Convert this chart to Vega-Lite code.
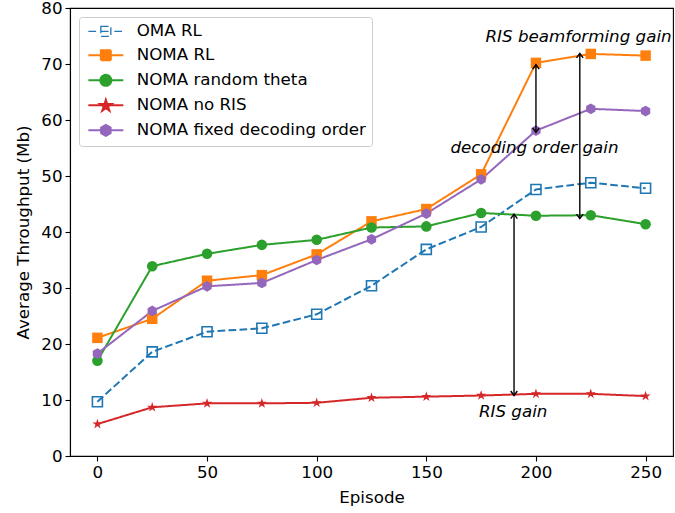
{
  "$schema": "https://vega.github.io/schema/vega-lite/v6.json",
  "width": 603,
  "height": 448,
  "autosize": {"type": "none"},
  "padding": {"left": 70, "top": 8, "right": 2, "bottom": 57},
  "background": "white",
  "datasets": {
    "perf": [
      {"episode": 0, "value": 9.7, "series": "OMA RL"},
      {"episode": 25, "value": 18.6, "series": "OMA RL"},
      {"episode": 50, "value": 22.2, "series": "OMA RL"},
      {"episode": 75, "value": 22.8, "series": "OMA RL"},
      {"episode": 100, "value": 25.3, "series": "OMA RL"},
      {"episode": 125, "value": 30.4, "series": "OMA RL"},
      {"episode": 150, "value": 36.9, "series": "OMA RL"},
      {"episode": 175, "value": 40.9, "series": "OMA RL"},
      {"episode": 200, "value": 47.6, "series": "OMA RL"},
      {"episode": 225, "value": 48.8, "series": "OMA RL"},
      {"episode": 250, "value": 47.8, "series": "OMA RL"},
      {"episode": 0, "value": 21.1, "series": "NOMA RL"},
      {"episode": 25, "value": 24.5, "series": "NOMA RL"},
      {"episode": 50, "value": 31.3, "series": "NOMA RL"},
      {"episode": 75, "value": 32.3, "series": "NOMA RL"},
      {"episode": 100, "value": 36.0, "series": "NOMA RL"},
      {"episode": 125, "value": 41.9, "series": "NOMA RL"},
      {"episode": 150, "value": 44.1, "series": "NOMA RL"},
      {"episode": 175, "value": 50.3, "series": "NOMA RL"},
      {"episode": 200, "value": 70.2, "series": "NOMA RL"},
      {"episode": 225, "value": 71.8, "series": "NOMA RL"},
      {"episode": 250, "value": 71.5, "series": "NOMA RL"},
      {"episode": 0, "value": 17.0, "series": "NOMA random theta"},
      {"episode": 25, "value": 33.9, "series": "NOMA random theta"},
      {"episode": 50, "value": 36.1, "series": "NOMA random theta"},
      {"episode": 75, "value": 37.7, "series": "NOMA random theta"},
      {"episode": 100, "value": 38.6, "series": "NOMA random theta"},
      {"episode": 125, "value": 40.8, "series": "NOMA random theta"},
      {"episode": 150, "value": 41.0, "series": "NOMA random theta"},
      {"episode": 175, "value": 43.4, "series": "NOMA random theta"},
      {"episode": 200, "value": 42.9, "series": "NOMA random theta"},
      {"episode": 225, "value": 43.0, "series": "NOMA random theta"},
      {"episode": 250, "value": 41.4, "series": "NOMA random theta"},
      {"episode": 0, "value": 5.7, "series": "NOMA no RIS"},
      {"episode": 25, "value": 8.7, "series": "NOMA no RIS"},
      {"episode": 50, "value": 9.4, "series": "NOMA no RIS"},
      {"episode": 75, "value": 9.4, "series": "NOMA no RIS"},
      {"episode": 100, "value": 9.5, "series": "NOMA no RIS"},
      {"episode": 125, "value": 10.4, "series": "NOMA no RIS"},
      {"episode": 150, "value": 10.6, "series": "NOMA no RIS"},
      {"episode": 175, "value": 10.8, "series": "NOMA no RIS"},
      {"episode": 200, "value": 11.1, "series": "NOMA no RIS"},
      {"episode": 225, "value": 11.1, "series": "NOMA no RIS"},
      {"episode": 250, "value": 10.7, "series": "NOMA no RIS"},
      {"episode": 0, "value": 18.3, "series": "NOMA fixed decoding order"},
      {"episode": 25, "value": 25.9, "series": "NOMA fixed decoding order"},
      {"episode": 50, "value": 30.3, "series": "NOMA fixed decoding order"},
      {"episode": 75, "value": 30.9, "series": "NOMA fixed decoding order"},
      {"episode": 100, "value": 35.0, "series": "NOMA fixed decoding order"},
      {"episode": 125, "value": 38.7, "series": "NOMA fixed decoding order"},
      {"episode": 150, "value": 43.3, "series": "NOMA fixed decoding order"},
      {"episode": 175, "value": 49.4, "series": "NOMA fixed decoding order"},
      {"episode": 200, "value": 58.1, "series": "NOMA fixed decoding order"},
      {"episode": 225, "value": 62.0, "series": "NOMA fixed decoding order"},
      {"episode": 250, "value": 61.6, "series": "NOMA fixed decoding order"}
    ],
    "arrows": [
      {"episode": 200, "top": 69.9, "bottom": 57.8},
      {"episode": 220, "top": 71.9, "bottom": 42.4},
      {"episode": 190, "top": 43.2, "bottom": 10.8}
    ],
    "notes": [
      {"episode": 177, "value": 73.9, "text": "RIS beamforming gain"},
      {"episode": 161, "value": 54.1, "text": "decoding order gain"},
      {"episode": 174, "value": 7.0, "text": "RIS gain"}
    ]
  },
  "layer": [
    {
      "data": {"name": "perf"},
      "mark": {"type": "line", "strokeWidth": 2},
      "encoding": {
        "x": {"field": "episode", "type": "quantitative", "scale": {"domain": [-12.5, 262.5], "nice": false, "zero": false},
              "axis": {"values": [0, 50, 100, 150, 200, 250], "title": "Episode", "titlePadding": 9}},
        "y": {"field": "value", "type": "quantitative", "scale": {"domain": [0, 80], "nice": false},
              "axis": {"values": [0, 10, 20, 30, 40, 50, 60, 70, 80], "title": "Average Throughput (Mb)", "titlePadding": 8}},
        "color": {
          "field": "series", "type": "nominal",
          "scale": {
            "domain": ["OMA RL", "NOMA RL", "NOMA random theta", "NOMA no RIS", "NOMA fixed decoding order"],
            "range": ["#1f77b4", "#ff7f0e", "#2ca02c", "#d62728", "#9467bd"]
          },
          "legend": {
            "title": null,
            "orient": "top-left",
            "offset": 9,
            "padding": 6,
            "strokeColor": "#cccccc",
            "fillColor": "rgba(255,255,255,0.8)",
            "cornerRadius": 3,
            "labelFont": "DejaVu Sans",
            "labelFontSize": 16.7,
            "labelColor": "black",
            "labelOffset": 35,
            "labelLimit": 400,
            "rowPadding": 5,
            "symbolSize": 100,
            "symbolStrokeWidth": 2,
            "encode": {
              "symbols": {
                "update": {
                  "shape": {"signal": "datum.value === 'OMA RL' ? 'M-1,0L0.8,0M1.5,-1L3.5,-1L3.5,1L1.5,1ZM1.5,0L3.5,0M4.2,0L6,0' : datum.value === 'NOMA RL' ? 'M-1,0L6,0M1.5,-1L3.5,-1L3.5,1L1.5,1Z' : datum.value === 'NOMA random theta' ? 'M-1,0L6,0M1.4,0A1.1,1.1 0 1,0 3.6,0A1.1,1.1 0 1,0 1.4,0Z' : datum.value === 'NOMA no RIS' ? 'M-1,0L6,0M2.5,-1.1L2.77,-0.27L3.64,-0.27L2.94,0.24L3.21,1.07L2.5,0.56L1.79,1.07L2.06,0.24L1.36,-0.27L2.23,-0.27Z' : 'M-1,0L6,0M2.5,-1.1L3.45,-0.55L3.45,0.55L2.5,1.1L1.55,0.55L1.55,-0.55Z'"},
                  "fill": {"signal": "scale('color', datum.value)"},
                  "fillOpacity": {"signal": "datum.value === 'OMA RL' ? 0 : 1"},
                  "stroke": {"signal": "scale('color', datum.value)"},
                  "strokeOpacity": {"value": 1},
                  "size": {"value": 100},
                  "strokeWidth": {"signal": "datum.value === 'OMA RL' ? 1.3 : 2"},
                  "opacity": {"value": 1},
                  "strokeDash": {"value": [1, 0]}
                }
              }
            }
          }
        },
        "strokeDash": {
          "field": "series", "type": "nominal",
          "scale": {
            "domain": ["OMA RL", "NOMA RL", "NOMA random theta", "NOMA no RIS", "NOMA fixed decoding order"],
            "range": [[7.7, 3.3], [1, 0], [1, 0], [1, 0], [1, 0]]
          },
          "legend": null
        }
      }
    },
    {
      "data": {"name": "perf"},
      "transform": [{"filter": "datum.series !== 'OMA RL'"}],
      "mark": {"type": "point", "filled": true, "opacity": 1, "strokeWidth": 1},
      "encoding": {
        "x": {"field": "episode", "type": "quantitative"},
        "y": {"field": "value", "type": "quantitative"},
        "color": {"field": "series", "type": "nominal"},
        "shape": {
          "field": "series", "type": "nominal",
          "scale": {
            "domain": ["NOMA RL", "NOMA random theta", "NOMA no RIS", "NOMA fixed decoding order"],
            "range": ["square", "circle", "M0,-1L0.225,-0.309L0.951,-0.309L0.363,0.118L0.588,0.809L0,0.382L-0.588,0.809L-0.363,0.118L-0.951,-0.309L-0.225,-0.309Z", "M0,-1L0.866,-0.5L0.866,0.5L0,1L-0.866,0.5L-0.866,-0.5Z"]
          },
          "legend": null
        },
        "size": {
          "field": "series", "type": "nominal",
          "scale": {
            "domain": ["NOMA RL", "NOMA random theta", "NOMA no RIS", "NOMA fixed decoding order"],
            "range": [110, 115, 160, 130]
          },
          "legend": null
        }
      }
    },
    {
      "data": {"name": "perf"},
      "transform": [{"filter": "datum.series === 'OMA RL'"}],
      "mark": {"type": "point", "filled": false, "shape": "square", "size": 100, "strokeWidth": 1.6, "opacity": 1, "color": "#1f77b4"},
      "encoding": {
        "x": {"field": "episode", "type": "quantitative"},
        "y": {"field": "value", "type": "quantitative"}
      }
    },
    {
      "data": {"name": "arrows"},
      "mark": {"type": "rule", "color": "black", "strokeWidth": 1.4},
      "encoding": {
        "x": {"field": "episode", "type": "quantitative"},
        "y": {"field": "top", "type": "quantitative"},
        "y2": {"field": "bottom"}
      }
    },
    {
      "data": {"name": "arrows"},
      "mark": {"type": "point", "filled": false, "shape": "M-1.1,1.5L0,0L1.1,1.5", "size": 36, "stroke": "black", "strokeWidth": 1.4, "opacity": 1},
      "encoding": {
        "x": {"field": "episode", "type": "quantitative"},
        "y": {"field": "top", "type": "quantitative"}
      }
    },
    {
      "data": {"name": "arrows"},
      "mark": {"type": "point", "filled": false, "shape": "M-1.1,-1.5L0,0L1.1,-1.5", "size": 36, "stroke": "black", "strokeWidth": 1.4, "opacity": 1},
      "encoding": {
        "x": {"field": "episode", "type": "quantitative"},
        "y": {"field": "bottom", "type": "quantitative"}
      }
    },
    {
      "data": {"name": "notes"},
      "mark": {"type": "text", "align": "left", "baseline": "alphabetic", "font": "DejaVu Sans", "fontStyle": "italic", "fontSize": 16.7, "color": "black"},
      "encoding": {
        "x": {"field": "episode", "type": "quantitative"},
        "y": {"field": "value", "type": "quantitative"},
        "text": {"field": "text"}
      }
    }
  ],
  "config": {
    "view": {"stroke": "black", "strokeWidth": 1.1},
    "axis": {
      "grid": false,
      "domainColor": "black",
      "domainWidth": 1.1,
      "tickColor": "black",
      "tickWidth": 1.1,
      "tickSize": 5,
      "labelColor": "black",
      "titleColor": "black",
      "labelFont": "DejaVu Sans",
      "titleFont": "DejaVu Sans",
      "labelFontSize": 16.7,
      "titleFontSize": 16.7,
      "titleFontWeight": "normal",
      "labelPadding": 3
    }
  }
}
